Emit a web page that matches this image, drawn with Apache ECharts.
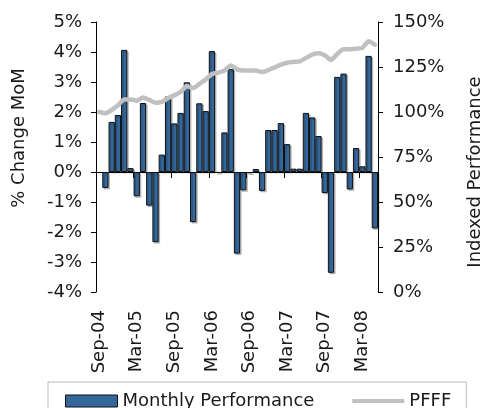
<!DOCTYPE html>
<html>
<head>
<meta charset="utf-8">
<script src="https://cdn.jsdelivr.net/npm/echarts@6/dist/echarts.min.js"></script>
<style>
html,body{margin:0;padding:0;background:#fff;}
#chart{width:492px;height:408px;}
</style>
</head>
<body>
<div id="chart"></div>
<script>
const months = ['Sep-04','Oct-04','Nov-04','Dec-04','Jan-05','Feb-05','Mar-05','Apr-05','May-05','Jun-05','Jul-05','Aug-05',
  'Sep-05','Oct-05','Nov-05','Dec-05','Jan-06','Feb-06','Mar-06','Apr-06','May-06','Jun-06','Jul-06','Aug-06',
  'Sep-06','Oct-06','Nov-06','Dec-06','Jan-07','Feb-07','Mar-07','Apr-07','May-07','Jun-07','Jul-07','Aug-07',
  'Sep-07','Oct-07','Nov-07','Dec-07','Jan-08','Feb-08','Mar-08','Apr-08','May-08'];
const monthlyPerformance = [null, -0.53, 1.67, 1.9, 4.07, 0.13, -0.81, 2.3, -1.12, -2.34, 0.58, 2.52,
  1.62, 1.97, 2.99, -1.67, 2.29, 2.03, 4.03, -0.03, 1.32, 3.43, -2.72, -0.61,
  -0.04, 0.1, -0.63, 1.4, 1.4, 1.63, 0.93, 0.11, 0.11, 1.97, 1.82, 1.2,
  -0.7, -3.36, 3.17, 3.28, -0.58, 0.8, 0.19, 3.87, -1.88];
const pfff = [100, 99.3, 101.1, 103.7, 107, 107, 106.3, 108.1, 106.7, 105.2, 105.6, 107.8,
  109.3, 111.1, 114.4, 113.3, 115.6, 118.1, 121.1, 121.9, 123, 125.9, 123.7, 123,
  123, 123, 122.2, 123.3, 124.8, 126.3, 127.4, 127.8, 128.1, 130, 131.9, 132.6,
  131.5, 128.9, 132.2, 134.8, 134.8, 135.2, 135.6, 139.3, 137.4];
const leftTicks = {min: -4, max: 5, interval: 1};
const rightTicks = {min: 0, max: 150, interval: 25};

const FONT = 'DejaVu Sans';
const FS = 18;
const TXT = '#1a1a1a';
const BAR = '#336699';
const LINE = '#c0c0c0';
const chart = echarts.init(document.getElementById('chart'));
chart.setOption({
  animation: false,
  textStyle: {fontFamily: FONT},
  grid: {left: 96, right: 95, top: 22, bottom: 116, containLabel: false},
  legend: {
    left: 48, top: 382,
    padding: [10, 15, 20, 17],
    borderColor: '#bbbbbb', borderWidth: 1,
    itemWidth: 52, itemHeight: 12, itemGap: 38,
    textStyle: {fontFamily: FONT, fontSize: FS, color: TXT},
    data: [
      {name: 'Monthly Performance', icon: 'rect',
       itemStyle: {color: BAR, borderColor: '#111', borderWidth: 1, shadowBlur: 0, shadowOffsetX: 0, shadowOffsetY: 0, shadowColor: 'transparent'}},
      {name: 'PFFF', icon: 'path://M2,0 L52,0 L52,4 L2,4 Z',
       itemStyle: {color: LINE, borderWidth: 0}}
    ]
  },
  xAxis: [
    {
      type: 'category', data: months, position: 'bottom',
      axisLine: {show: true, onZero: true, onZeroAxisIndex: 0, lineStyle: {color: '#000', width: 1}},
      axisTick: {show: true, interval: 5, length: 6, lineStyle: {color: '#000'}},
      axisLabel: {show: false},
      splitLine: {show: false}
    },
    {
      type: 'category', data: months, position: 'bottom',
      axisLine: {show: false, onZero: false},
      axisTick: {show: false},
      axisLabel: {show: true, interval: 5, rotate: 90, margin: 18, fontFamily: FONT, fontSize: FS, color: TXT},
      splitLine: {show: false}
    }
  ],
  yAxis: [
    {
      type: 'value', position: 'left',
      min: leftTicks.min, max: leftTicks.max, interval: leftTicks.interval,
      name: '% Change MoM', nameLocation: 'middle', nameGap: 68,
      nameTextStyle: {fontFamily: FONT, fontSize: FS, color: TXT, padding: [0, 0, 0, 38]},
      axisLine: {show: true, lineStyle: {color: '#000', width: 1}},
      axisTick: {show: true, length: 5, lineStyle: {color: '#000'}},
      axisLabel: {formatter: '{value}%', margin: 14, fontFamily: FONT, fontSize: FS, color: TXT},
      splitLine: {show: false}
    },
    {
      type: 'value', position: 'right',
      min: rightTicks.min, max: rightTicks.max, interval: rightTicks.interval,
      name: 'Indexed Performance', nameLocation: 'middle', nameGap: 88,
      nameTextStyle: {fontFamily: FONT, fontSize: FS, color: TXT, padding: [0, 30, 0, 0]},
      axisLine: {show: true, lineStyle: {color: '#000', width: 1}},
      axisTick: {show: true, length: 5, lineStyle: {color: '#000'}},
      axisLabel: {formatter: '{value}%', margin: 15, fontFamily: FONT, fontSize: FS, color: TXT},
      splitLine: {show: false}
    }
  ],
  series: [
    {
      name: 'Monthly Performance', type: 'bar',
      xAxisIndex: 0, yAxisIndex: 0,
      data: monthlyPerformance,
      barCategoryGap: '0%',
      itemStyle: {
        color: BAR, borderColor: '#111', borderWidth: 1,
        shadowColor: 'rgba(0,0,0,0.22)', shadowOffsetX: 1.5, shadowOffsetY: 1.5, shadowBlur: 0
      }
    },
    {
      name: 'PFFF', type: 'line',
      xAxisIndex: 0, yAxisIndex: 1,
      data: pfff,
      symbol: 'none', smooth: 0.2,
      lineStyle: {color: LINE, width: 4.5, cap: 'round', join: 'round'},
      itemStyle: {color: LINE},
      z: 3
    }
  ]
});
</script>
</body>
</html>
